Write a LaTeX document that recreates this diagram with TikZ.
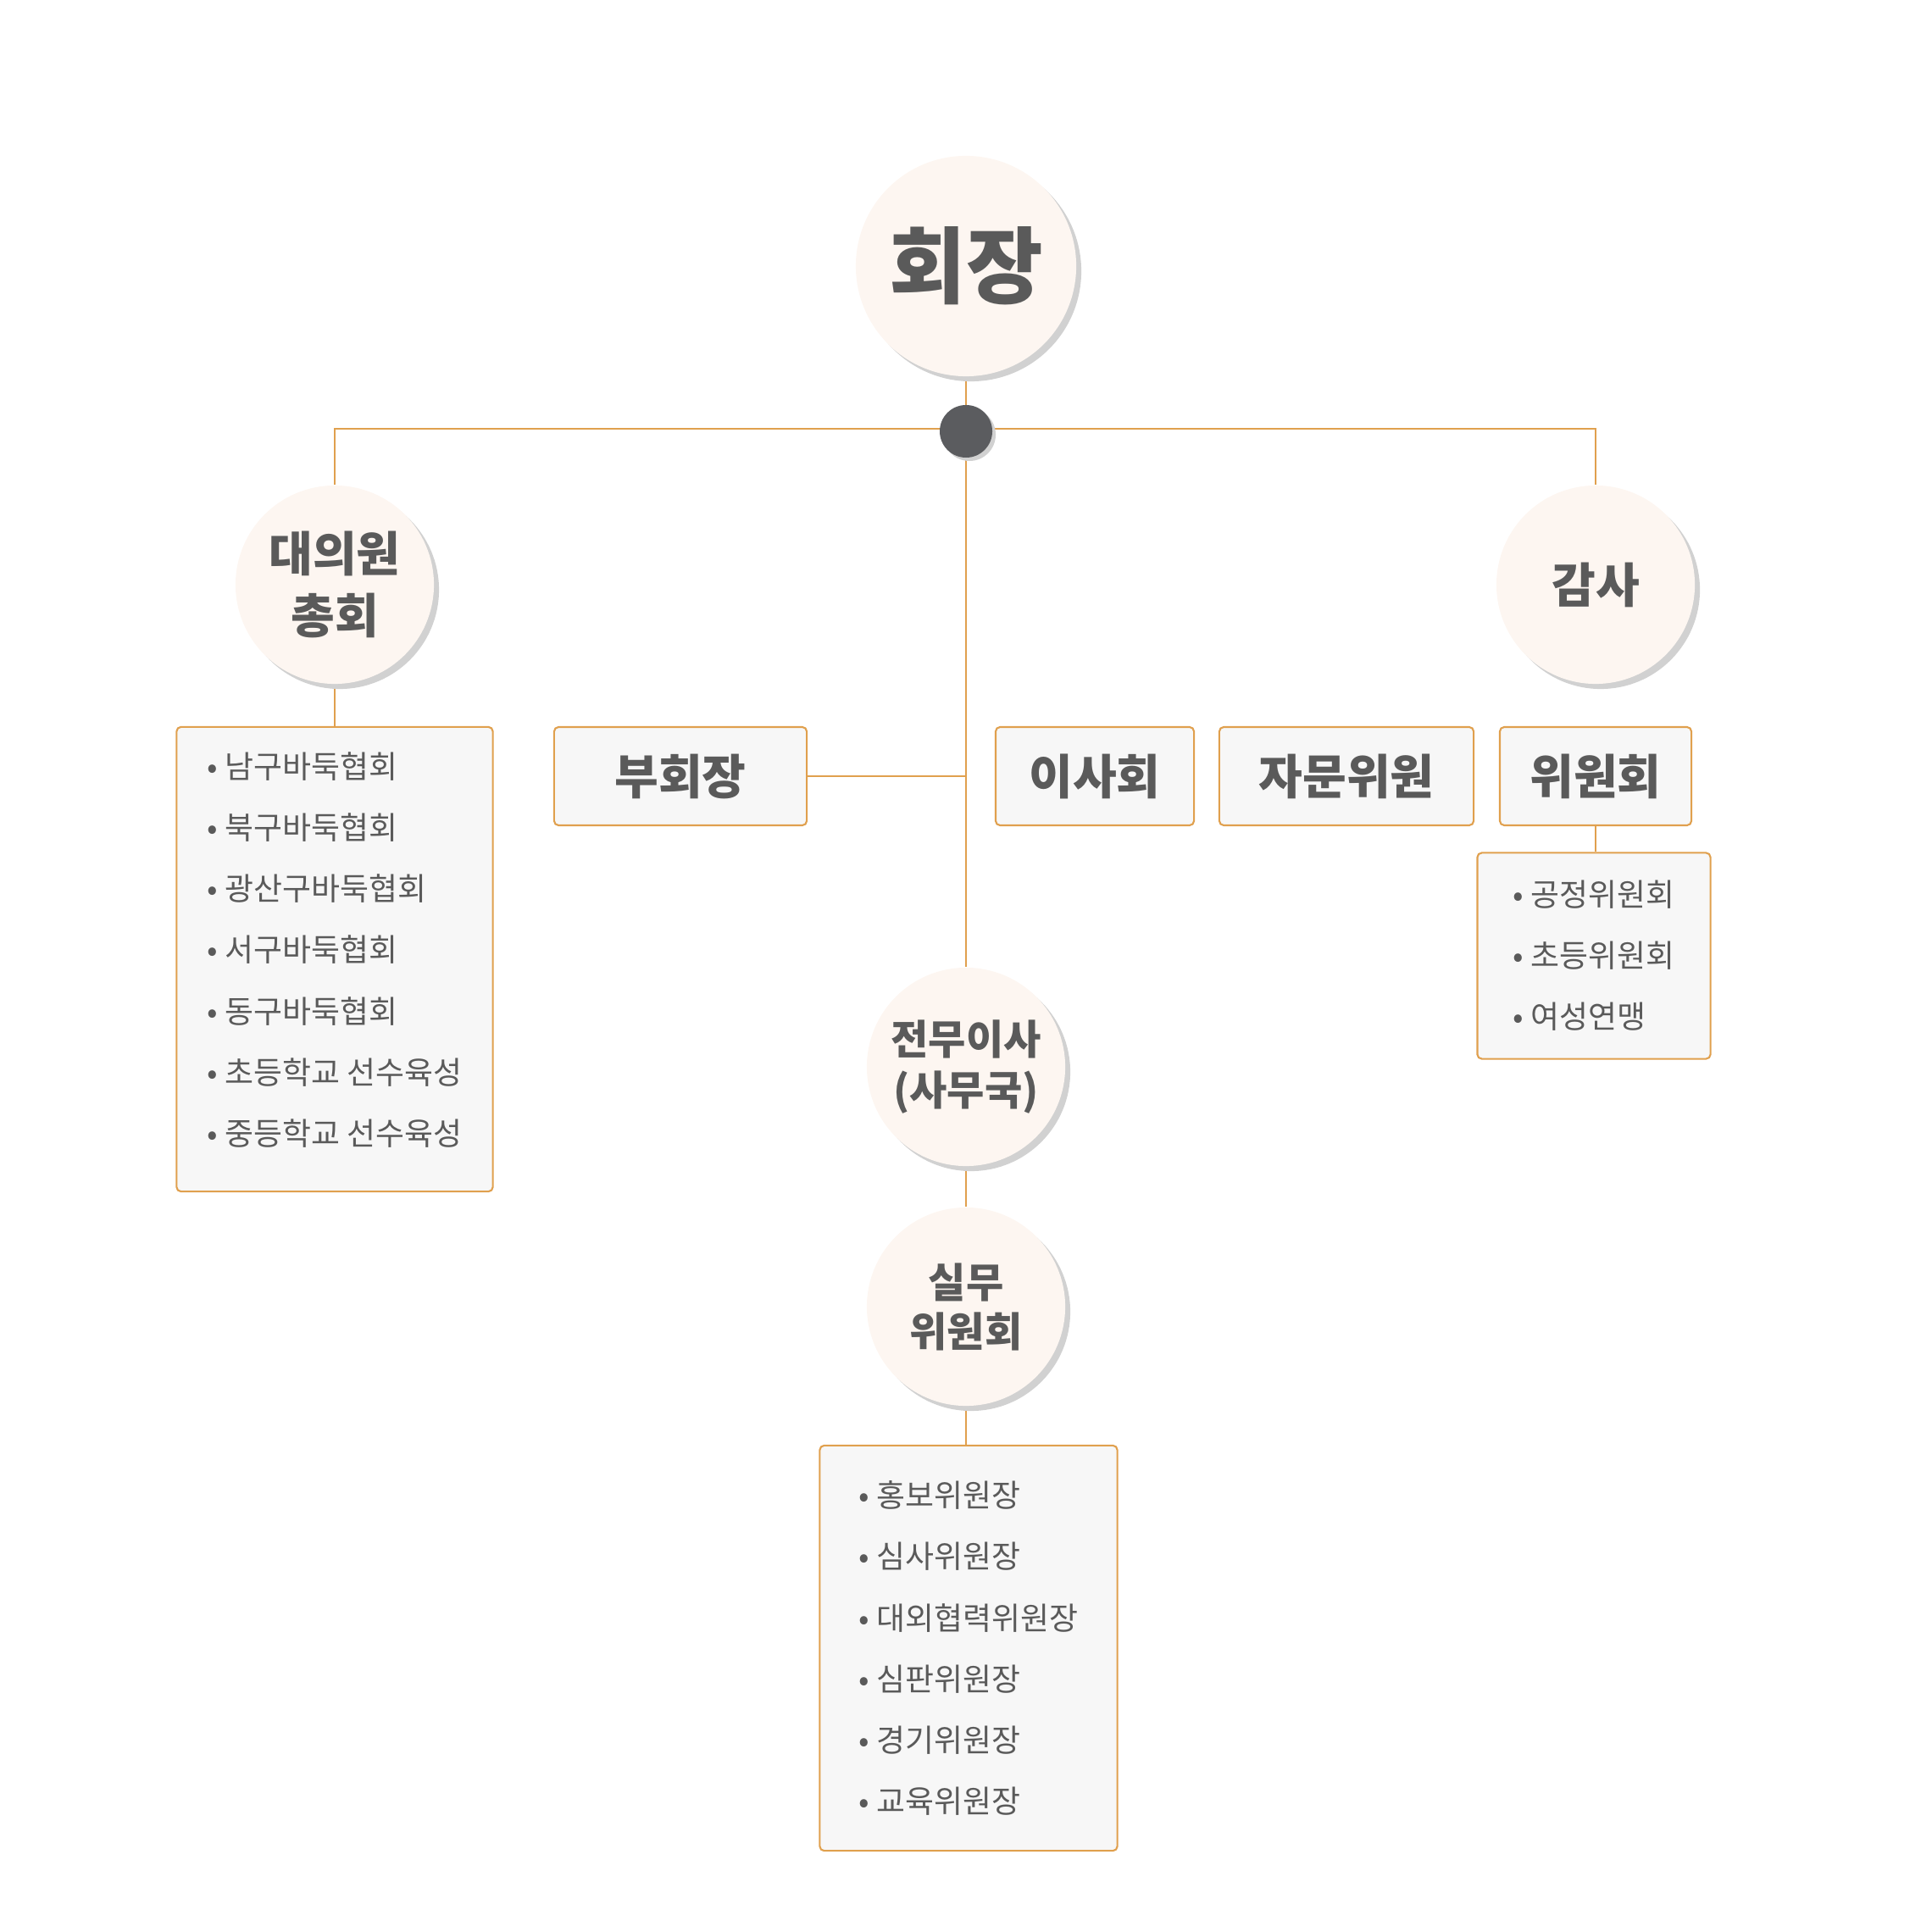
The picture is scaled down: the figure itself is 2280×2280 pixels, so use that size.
\documentclass[tikz,border=0pt]{standalone}
\usepackage{fontspec}
\setmainfont{Noto Sans CJK KR}
\usetikzlibrary{shadows,backgrounds}
\definecolor{linecol}{HTML}{E0A04E}
\definecolor{txtcol}{HTML}{5A5A5A}
\definecolor{circfill}{HTML}{FDF6F1}
\definecolor{boxfill}{HTML}{F7F7F7}
\definecolor{dotcol}{HTML}{5B5C5F}
\tikzstyle{circ}=[circle, fill=circfill, text=txtcol, align=center, minimum size=2.34cm, inner sep=0pt, font=\bfseries\fontsize{16}{21}\selectfont, drop shadow={shadow xshift=0.06cm, shadow yshift=-0.06cm, fill=black!18, opacity=1}]
\tikzstyle{titlebox}=[rectangle, draw=linecol, line width=0.6pt, rounded corners=1.5pt, fill=boxfill, text=txtcol, font=\bfseries\fontsize{16}{20}\selectfont, minimum height=1.16cm, inner sep=0pt]
\tikzstyle{listbox}=[rectangle, draw=linecol, line width=0.6pt, rounded corners=1.5pt, fill=boxfill, text=txtcol, font=\fontsize{10.5}{20.5}\selectfont, align=left, inner sep=0pt]
\tikzstyle{link}=[draw=linecol, line width=0.6pt]

\begin{document}
\begin{tikzpicture}[x=0.01cm, y=-0.01cm]
  \useasboundingbox (0,0) rectangle (2280,2280);
  % top
  \node[circ, minimum size=2.6cm, font=\bfseries\fontsize{28}{30}\selectfont] (hoejang) at (1140,314) {회장};
  \node[circle, fill=dotcol, minimum size=0.62cm, inner sep=0pt, drop shadow={shadow xshift=0.04cm, shadow yshift=-0.04cm, fill=black!18, opacity=1}] (dot) at (1140,509) {};
  \coordinate (branch) at (1140,506);
  \node[circ] (daeui) at (395,690) {대의원\\총회};
  \node[circ] (gamsa) at (1883,690) {감사};
  % middle row
  \node[titlebox, minimum width=2.98cm] (buhoe) at (803,916) {부회장};
  \node[titlebox, minimum width=2.34cm] (isa) at (1292,916) {이사회};
  \node[titlebox, minimum width=3.0cm] (jamun) at (1589,916) {자문위원};
  \node[titlebox, minimum width=2.26cm] (wiwon) at (1883,916) {위원회};
  % lists
  \node[listbox, minimum width=3.73cm, minimum height=5.48cm] (llist) at (395,1132) {%
    • 남구바둑협회\\• 북구바둑협회\\• 광산구바둑협회\\• 서구바둑협회\\%
    • 동구바둑협회\\• 초등학교 선수육성\\• 중등학교 선수육성\rule[-0.25cm]{0pt}{0.25cm}};
  \node[listbox, minimum width=2.75cm, minimum height=2.43cm] (wlist) at (1881,1128) {%
    • 공정위원회\\• 초등위원회\\• 여성연맹};
  % lower
  \node[circ, font=\bfseries\fontsize{13.7}{17}\selectfont] (jeonmu) at (1140,1259) {전무이사\\(사무국)};
  \node[circ, font=\bfseries\fontsize{13.7}{16.5}\selectfont] (silmu) at (1140,1542) {실무\\위원회};
  \node[listbox, minimum width=3.51cm, minimum height=4.78cm] (blist) at (1143,1945) {%
    • 홍보위원장\\• 심사위원장\\• 대외협력위원장\\• 심판위원장\\%
    • 경기위원장\\• 교육위원장};
  % connectors
  \begin{scope}[on background layer]
    \draw[link] (hoejang) -- (jeonmu);
    \draw[link] (daeui) |- (branch) -| (gamsa);
    \draw[link] (daeui) -- (daeui |- llist.north);
    \draw[link] (buhoe) -- (buhoe -| hoejang);
    \draw[link] (wiwon) -- (wiwon |- wlist.north);
    \draw[link] (jeonmu) -- (silmu);
    \draw[link] (silmu) -- (silmu |- blist.north);
  \end{scope}
\end{tikzpicture}
\end{document}
